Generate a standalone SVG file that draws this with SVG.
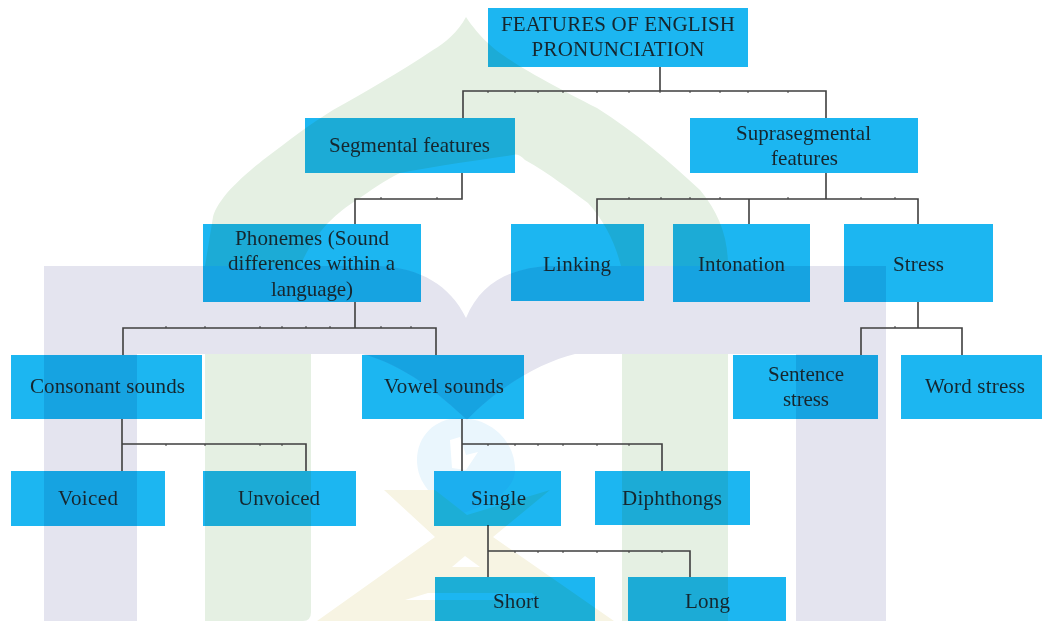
<svg xmlns="http://www.w3.org/2000/svg" width="1042" height="621" viewBox="0 0 1042 621">
<style>
.box{fill:#1cb6f1;mix-blend-mode:multiply}
text{font-family:"Liberation Serif","DejaVu Serif",serif;font-size:21px;fill:#14262e;text-anchor:middle}
.line{fill:none;stroke:#3f3f3f;stroke-width:1.6}
.tick{fill:none;stroke:#3f3f3f;stroke-width:1}
</style>
<defs><filter id="soft" x="0" y="0" width="100%" height="100%"><feGaussianBlur stdDeviation="0.45"/></filter></defs>
<rect width="1042" height="621" fill="#fff"/>
<g filter="url(#soft)">
<g id="watermark">
<path fill="#e5f0e3" d="M466 17C458 32 445 43 433 50C400 72 365 92 333 110C310 124 288 141 267 157C250 170 238 181 227 193C218 204 214 212 213 217L205 266H300C308 248 317 235 328 223C338 213 347 206 357 200C370 191 385 180 400 173C440 165 480 160 513 155Q518 153 525 160C550 174 570 190 588 203C605 222 615 243 621 266H728C728 235 718 212 700 190C670 162 635 132 597 108C550 84 505 60 488 43C480 36 472 26 466 17Z"/>
<path fill="#e5f0e3" d="M205 350H311V612Q311 621 303 621H205Z"/>
<path fill="#e5f0e3" d="M622 350H728V621H622Z"/>
<path fill="#eaf6fd" d="M460 418C490 418 515 440 515 470C515 490 490 505 460 514C435 500 417 485 417 460C417 436 435 418 460 418Z"/>
<path fill="#fff" d="M450 440L460 437L466 455L478 452L466 470L452 468Z"/>
<path fill="#f7f4e3" d="M384 490H435L467 515L550 490L493 537L614 621H317L435 537Z"/>
<path fill="#fff" d="M452 567L465 556L480 567Z"/>
<path fill="#fff" d="M405 600L428 593H532L540 600Z"/>
<path fill="#e4e4ef" d="M44 266H380C420 268 450 285 466 318C480 285 505 270 545 266H886V621H796V354H575C540 362 495 390 467 420C440 395 405 365 362 354H137V621H44Z"/>
</g>
<g id="connectors">
<path class="line" d="M660 67V91M463 118V91H826V118M462 173V199H355V224M826 173V199M597 224V199H918V224M749 199V224M355 302V328M123 355V328H436V355M918 302V328M861 355V328H962V355M122 419V471M122 444H306V471M462 419V471M462 444H662V471M488 525V577M488 551H690V577"/>
<path class="tick" d="M488 91v2M515 91v2M538 91v2M563 91v2M597 91v2M629 91v2M660 91v2M690 91v2M720 91v2M748 91v2M788 91v2M381 199v-2M437 199v-2M629 199v-2M661 199v-2M690 199v-2M720 199v-2M788 199v-2M861 199v-2M895 199v-2M166 328v-2M205 328v-2M260 328v-2M282 328v-2M306 328v-2M330 328v-2M381 328v-2M411 328v-2M895 328v-2M166 444v2M205 444v2M260 444v2M282 444v2M488 444v2M515 444v2M538 444v2M563 444v2M597 444v2M629 444v2M515 551v2M538 551v2M563 551v2M597 551v2M629 551v2M662 551v2"/>
</g>
<g id="n-root"><rect class="box" x="488" y="8" width="260" height="59"/><text x="618" y="31" textLength="234">FEATURES OF ENGLISH</text><text x="618" y="56" textLength="173">PRONUNCIATION</text></g>
<g id="n-segmental"><rect class="box" x="305" y="118" width="210" height="55"/><text x="409.500" y="152" textLength="161">Segmental features</text></g>
<g id="n-supra"><rect class="box" x="690" y="118" width="228" height="55"/><text x="803.500" y="140" textLength="135">Suprasegmental</text><text x="804.500" y="165" textLength="67">features</text></g>
<g id="n-phonemes"><rect class="box" x="203" y="224" width="218" height="78"/><text x="312" y="245" textLength="154">Phonemes (Sound</text><text x="311.500" y="270" textLength="167">differences within a</text><text x="312" y="296" textLength="82">language)</text></g>
<g id="n-linking"><rect class="box" x="511" y="224" width="133" height="77"/><text x="577" y="271" textLength="68">Linking</text></g>
<g id="n-intonation"><rect class="box" x="673" y="224" width="137" height="78"/><text x="741.500" y="271" textLength="87">Intonation</text></g>
<g id="n-stress"><rect class="box" x="844" y="224" width="149" height="78"/><text x="918.500" y="271" textLength="51">Stress</text></g>
<g id="n-consonant"><rect class="box" x="11" y="355" width="191" height="64"/><text x="107.500" y="393" textLength="155">Consonant sounds</text></g>
<g id="n-vowel"><rect class="box" x="362" y="355" width="162" height="64"/><text x="444" y="393" textLength="120">Vowel sounds</text></g>
<g id="n-sentence"><rect class="box" x="733" y="355" width="145" height="64"/><text x="806" y="381" textLength="76">Sentence</text><text x="806" y="406" textLength="46">stress</text></g>
<g id="n-word"><rect class="box" x="901" y="355" width="141" height="64"/><text x="975" y="393" textLength="100">Word stress</text></g>
<g id="n-voiced"><rect class="box" x="11" y="471" width="154" height="55"/><text x="88" y="505" textLength="60">Voiced</text></g>
<g id="n-unvoiced"><rect class="box" x="203" y="471" width="153" height="55"/><text x="279" y="505" textLength="82">Unvoiced</text></g>
<g id="n-single"><rect class="box" x="434" y="471" width="127" height="55"/><text x="498.500" y="505" textLength="55">Single</text></g>
<g id="n-diphthongs"><rect class="box" x="595" y="471" width="155" height="54"/><text x="672" y="505" textLength="100">Diphthongs</text></g>
<g id="n-short"><rect class="box" x="435" y="577" width="160" height="44"/><text x="516" y="608" textLength="46">Short</text></g>
<g id="n-long"><rect class="box" x="628" y="577" width="158" height="44"/><text x="707.500" y="608" textLength="45">Long</text></g>
</g>
</svg>
